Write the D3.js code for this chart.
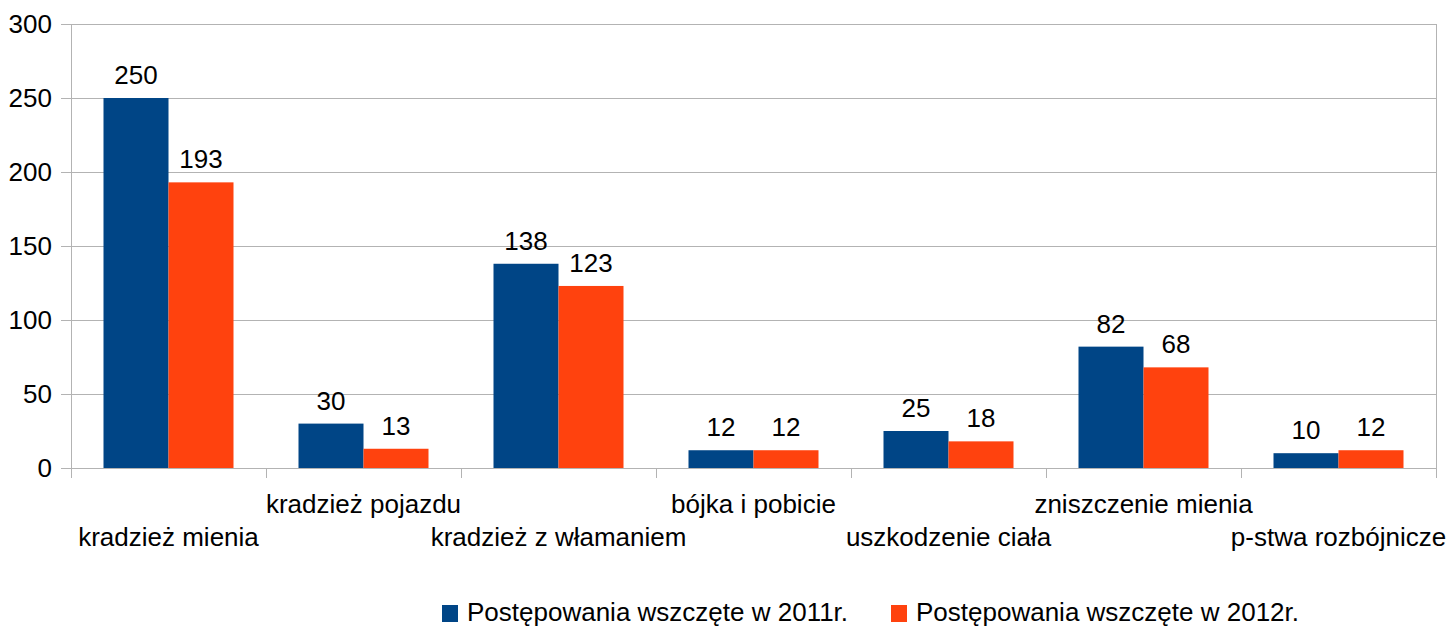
<!DOCTYPE html>
<html>
<head>
<meta charset="utf-8">
<script src="https://cdnjs.cloudflare.com/ajax/libs/d3/7.8.5/d3.min.js"></script>
<style>
  body { margin: 0; background: #fff; }
  text { font-family: "Liberation Sans", Arial, sans-serif; fill: #000; }
</style>
</head>
<body>
<div id="chart"></div>
<script>
const categories = ["kradzież mienia", "kradzież pojazdu", "kradzież z włamaniem", "bójka i pobicie",
  "uszkodzenie ciała", "zniszczenie mienia", "p-stwa rozbójnicze"];
const series = ["Postępowania wszczęte w 2011r.", "Postępowania wszczęte w 2012r."];
const values2011 = [250, 30, 138, 12, 25, 82, 10];
const values2012 = [193, 13, 123, 12, 18, 68, 12];
const yTicks = [0, 50, 100, 150, 200, 250, 300];

const W = 1449, H = 626;
const margin = { top: 24, right: 13, bottom: 158, left: 71 };
const width = W - margin.left - margin.right,
      height = H - margin.top - margin.bottom;
const fs = "26px";

const color = d3.scaleOrdinal().domain(series).range(["#004586", "#ff420e"]);

const svg = d3.select("#chart").append("svg")
  .attr("width", W).attr("height", H);

const g = svg.append("g")
  .attr("transform", `translate(${margin.left},${margin.top})`);

const x0 = d3.scaleBand().domain(categories).range([0, width]);
const x1 = d3.scaleBand().domain(series)
  .range([x0.bandwidth() / 6, x0.bandwidth() * 5 / 6]);
const y = d3.scaleLinear().domain([0, 300]).range([height, 0]);

// grid
g.append("g").selectAll("line")
  .data(yTicks)
  .join("line")
  .attr("x1", 0).attr("x2", width)
  .attr("y1", d => Math.round(y(d)) + 0.5).attr("y2", d => Math.round(y(d)) + 0.5)
  .attr("stroke", "#b3b3b3").attr("stroke-width", 1);

g.append("line")
  .attr("x1", width + 0.5).attr("x2", width + 0.5)
  .attr("y1", 0).attr("y2", height)
  .attr("stroke", "#b3b3b3");

// y axis
const yAxis = g.append("g")
  .call(d3.axisLeft(y).tickValues(yTicks).tickSize(10).tickPadding(9));
yAxis.select(".domain").attr("stroke", "#b3b3b3");
yAxis.selectAll(".tick line").attr("stroke", "#b3b3b3");
yAxis.selectAll("text").style("font-size", fs).attr("font-family", null);

// x axis
const xTicks = categories.map((c, i) => i * x0.bandwidth()).concat([width]);
g.append("g").selectAll("line")
  .data(xTicks)
  .join("line")
  .attr("x1", d => Math.round(d) + 0.5).attr("x2", d => Math.round(d) + 0.5)
  .attr("y1", height).attr("y2", height + 10)
  .attr("stroke", "#b3b3b3");

g.append("g").selectAll("text")
  .data(categories)
  .join("text")
  .attr("x", d => x0(d) + x0.bandwidth() / 2)
  .attr("y", (d, i) => height + (i % 2 === 0 ? 78 : 45))
  .attr("text-anchor", "middle")
  .style("font-size", fs)
  .text(d => d);

// bars
const rows = categories.map((c, i) => ({ cat: c, vals: [values2011[i], values2012[i]] }));

const groups = g.selectAll("g.cat")
  .data(rows)
  .join("g")
  .attr("class", "cat")
  .attr("transform", d => `translate(${x0(d.cat)},0)`);

groups.selectAll("rect")
  .data(d => series.map((s, j) => ({ key: s, value: d.vals[j] })))
  .join("rect")
  .attr("x", d => x1(d.key))
  .attr("y", d => y(d.value))
  .attr("width", x1.bandwidth())
  .attr("height", d => y(0) - y(d.value))
  .attr("fill", d => color(d.key));

groups.selectAll("text.val")
  .data(d => series.map((s, j) => ({ key: s, value: d.vals[j] })))
  .join("text")
  .attr("class", "val")
  .attr("x", d => x1(d.key) + x1.bandwidth() / 2)
  .attr("y", d => y(d.value) - 14)
  .attr("text-anchor", "middle")
  .style("font-size", fs)
  .text(d => d.value);

// legend
const legendX = [442, 891];
const legend = svg.selectAll(".legend")
  .data(series)
  .join("g")
  .attr("class", "legend")
  .attr("transform", (d, i) => `translate(${legendX[i]},605)`);

legend.append("rect")
  .attr("width", 16).attr("height", 17)
  .attr("fill", d => color(d));

legend.append("text")
  .attr("x", 25).attr("y", 16)
  .style("font-size", fs)
  .text(d => d);
</script>
</body>
</html>
